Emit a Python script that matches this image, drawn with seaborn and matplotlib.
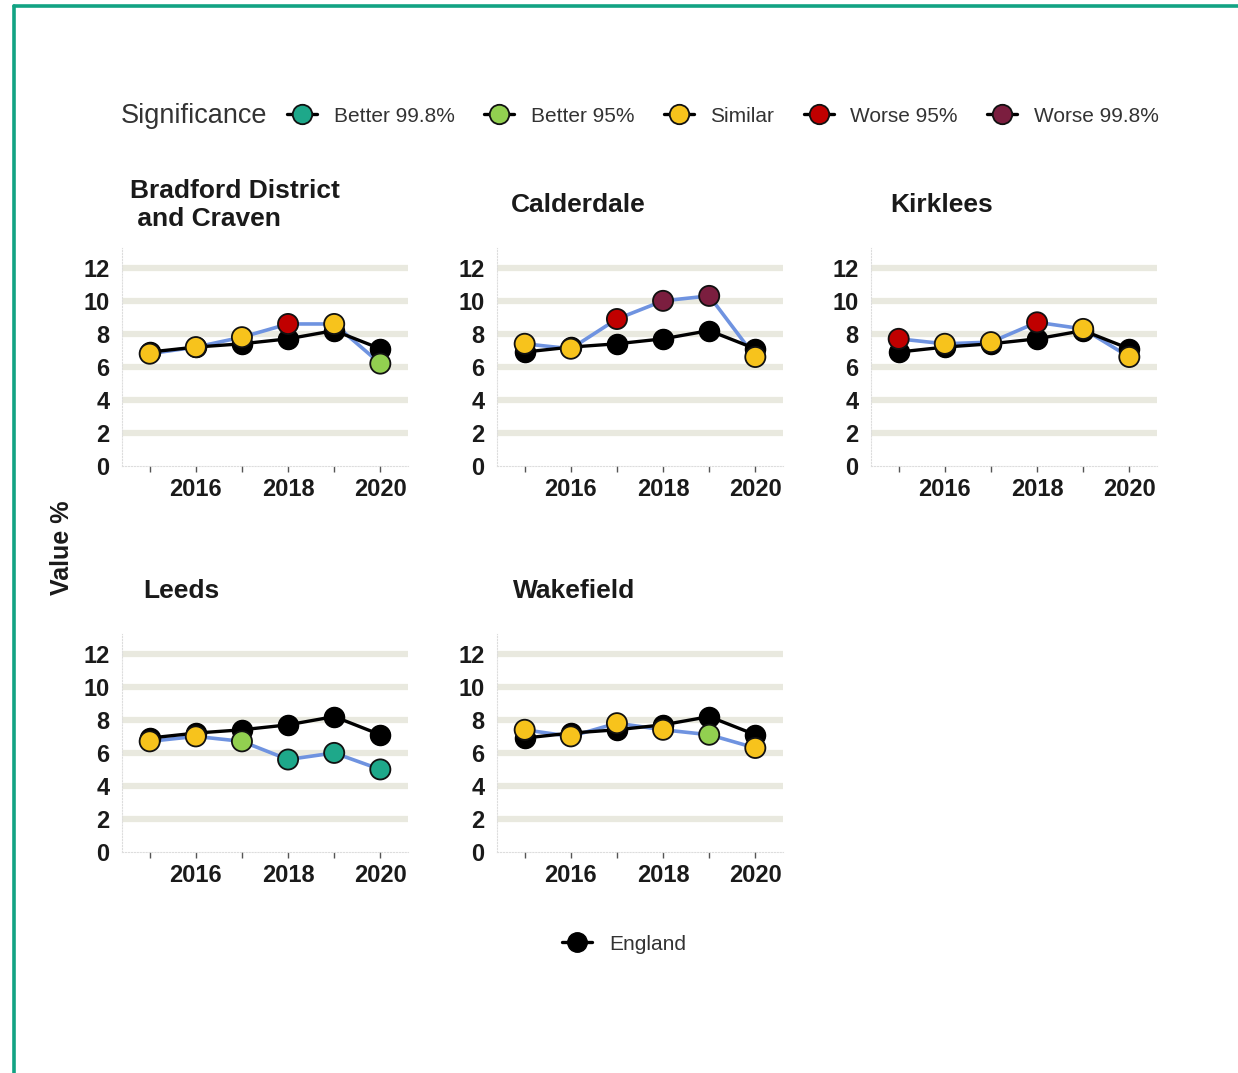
import pandas as pd
import matplotlib
matplotlib.use("Agg")
import matplotlib.pyplot as plt
import seaborn as sns
from matplotlib.lines import Line2D

sns.set_theme(style="white")
plt.rcParams['font.family'] = ['Liberation Sans', 'DejaVu Sans']

YEARS = [2015, 2016, 2017, 2018, 2019, 2020]
AREAS = ["Bradford District\n and Craven", "Calderdale", "Kirklees", "Leeds", "Wakefield"]
ENGLAND = [6.9, 7.2, 7.4, 7.7, 8.2, 7.1]

BRADFORD = [6.8, 7.2, 7.8, 8.6, 8.6, 6.2]
CALDERDALE = [7.4, 7.1, 8.9, 10.0, 10.3, 6.6]
KIRKLEES = [7.7, 7.4, 7.5, 8.7, 8.3, 6.6]
LEEDS = [6.7, 7.0, 6.7, 5.6, 6.0, 5.0]
WAKEFIELD = [7.4, 7.0, 7.8, 7.4, 7.1, 6.3]

BRADFORD_SIG = ["Similar", "Similar", "Similar", "Worse 95%", "Similar", "Better 95%"]
CALDERDALE_SIG = ["Similar", "Similar", "Worse 95%", "Worse 99.8%", "Worse 99.8%", "Similar"]
KIRKLEES_SIG = ["Worse 95%", "Similar", "Similar", "Worse 95%", "Similar", "Similar"]
LEEDS_SIG = ["Similar", "Similar", "Better 95%", "Better 99.8%", "Better 99.8%", "Better 99.8%"]
WAKEFIELD_SIG = ["Similar", "Similar", "Similar", "Similar", "Better 95%", "Similar"]

SIG_LEVELS = ["Better 99.8%", "Better 95%", "Similar", "Worse 95%", "Worse 99.8%"]
SIG_COLOURS = ["#1ea88a", "#92d050", "#f7c31c", "#c00000", "#7b1e3f"]
palette = dict(zip(SIG_LEVELS, SIG_COLOURS))

values = [BRADFORD, CALDERDALE, KIRKLEES, LEEDS, WAKEFIELD]
sigs = [BRADFORD_SIG, CALDERDALE_SIG, KIRKLEES_SIG, LEEDS_SIG, WAKEFIELD_SIG]

rows = []
for area, vals, sg in zip(AREAS, values, sigs):
    for k, yr in enumerate(YEARS):
        rows.append({"area": area, "year": yr, "value": vals[k], "sig": sg[k], "england": ENGLAND[k]})
df = pd.DataFrame(rows)

W, H = 1238, 1073
fig = plt.figure(figsize=(W / 100, H / 100), dpi=100)

# green frame, only top and left edges are visible in the original
GREEN = "#12a383"
fig.add_artist(Line2D([14 / W, 1], [1 - 6 / H, 1 - 6 / H], color=GREEN, linewidth=2.6, transform=fig.transFigure))
fig.add_artist(Line2D([14 / W, 14 / W], [0, 1 - 6 / H], color=GREEN, linewidth=2.6, transform=fig.transFigure))

# panel layout in pixels
lefts = [122, 497, 871, 122, 497]
bottoms = [466, 466, 466, 852, 852]
title_dx = [8, 14, 19, 21, 16]
AX_W, AX_H = 286, 218
BLUE = "#6f93e0"

for i, area in enumerate(AREAS):
    ax = fig.add_axes([lefts[i] / W, 1 - bottoms[i] / H, AX_W / W, AX_H / H])
    d = df[df["area"] == area]
    for yv in [2, 4, 6, 8, 10, 12]:
        ax.axhline(yv, color="#e9e9df", linewidth=4.5, zorder=0)
    sns.lineplot(data=d, x="year", y="value", color=BLUE, linewidth=2.6, ax=ax, zorder=2)
    sns.lineplot(data=d, x="year", y="england", color="black", linewidth=2.4, ax=ax, zorder=3)
    sns.scatterplot(data=d, x="year", y="england", color="black", s=210, edgecolor="black",
                    linewidth=1.0, ax=ax, zorder=4)
    sns.scatterplot(data=d, x="year", y="value", hue="sig", palette=palette, s=210,
                    edgecolor="#111111", linewidth=1.3, ax=ax, zorder=5, legend=False)
    ax.set_xlim(2014.4, 2020.6)
    ax.set_ylim(0, 13.2)
    ax.set_yticks([0, 2, 4, 6, 8, 10, 12])
    ax.set_xticks(YEARS)
    ax.set_xticklabels([str(y) if y % 2 == 0 else "" for y in YEARS])
    ax.tick_params(axis="x", bottom=True, length=4, width=1, color="#555555", pad=5, labelsize=17)
    ax.tick_params(axis="y", left=False, length=0, pad=9, labelsize=17)
    for lab in ax.get_xticklabels() + ax.get_yticklabels():
        lab.set_fontweight("bold")
        lab.set_color("#1a1a1a")
    ax.set_xlabel("")
    ax.set_ylabel("")
    for side in ["top", "right"]:
        ax.spines[side].set_visible(False)
    for side in ["left", "bottom"]:
        ax.spines[side].set_color("#dddddd")
        ax.spines[side].set_linestyle(":")
        ax.spines[side].set_linewidth(0.8)
    ax.text(title_dx[i] / AX_W, 1 + 43 / AX_H, area, transform=ax.transAxes, ha="left", va="center",
            fontsize=19, fontweight="bold", color="#1a1a1a", linespacing=1.25)

fig.text(62 / W, 1 - 548 / H, "Value %", rotation=90, ha="center", va="center",
         fontsize=18, fontweight="bold", color="#1a1a1a")

# significance legend
fig.text(121 / W, 1 - 116 / H, "Significance", ha="left", va="center", fontsize=19.5, color="#333333")
handles = [Line2D([0], [0], color="black", linewidth=2.4, marker="o", markersize=14,
                  markerfacecolor=c, markeredgecolor="#111111", markeredgewidth=1.3)
           for c in SIG_COLOURS]
fig.legend(handles, SIG_LEVELS, ncol=5, loc="center", bbox_to_anchor=(723 / W, 1 - 116 / H),
           frameon=False, fontsize=15, handlelength=1.45, handletextpad=0.8,
           columnspacing=1.4, labelcolor="#333333")

eng = [Line2D([0], [0], color="black", linewidth=2.4, marker="o", markersize=14,
              markerfacecolor="black", markeredgecolor="black")]
fig.legend(eng, ["England"], loc="center", bbox_to_anchor=(624 / W, 1 - 944 / H),
           frameon=False, fontsize=15, handlelength=1.45, handletextpad=0.8, labelcolor="#333333")

fig.savefig("out.png", dpi=100)
